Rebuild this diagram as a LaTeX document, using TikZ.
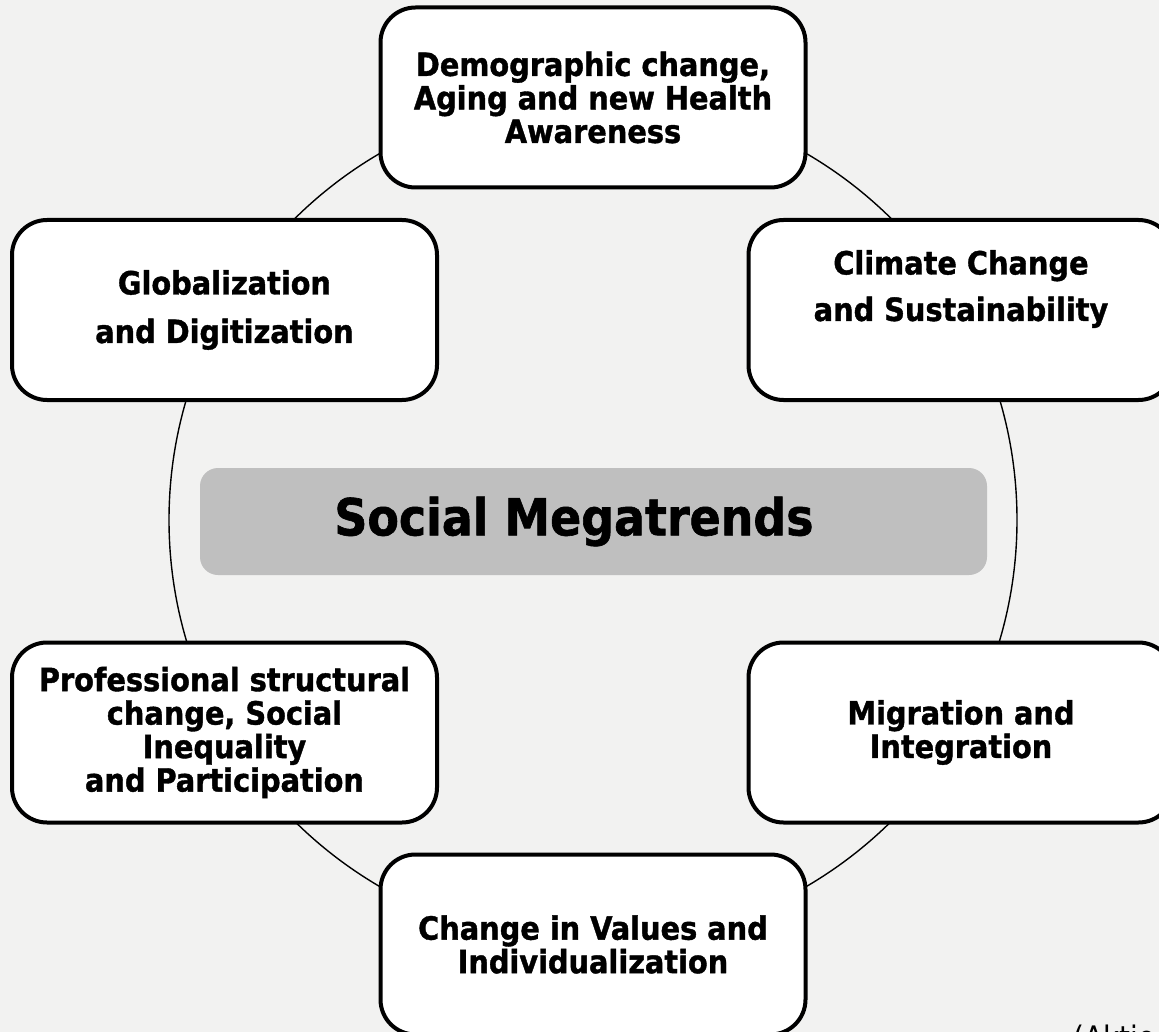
\documentclass[tikz,border=0pt]{standalone}
\usepackage{fontspec}
\setmainfont{DejaVu Sans Condensed}[BoldFeatures={FakeBold=1.2}]
\usepackage{xcolor}
\usetikzlibrary{positioning}

\definecolor{bgcolor}{HTML}{F2F2F1}
\definecolor{hubgray}{HTML}{BFBFBF}

\begin{document}
\begin{tikzpicture}[x=1pt,y=-1pt,
                    trend node/.style={rectangle,rounded corners=35pt,fill=white,draw,line width=4pt,
                                       minimum width=425pt,minimum height=180pt,align=center,
                                       font=\bfseries\fontsize{32}{33.5}\selectfont},
                    hub node/.style={rectangle,rounded corners=18pt,fill=hubgray,
                                     minimum width=787pt,minimum height=107pt}]
 \useasboundingbox (0,0) rectangle (1159,1032);
 \clip (0,0) rectangle (1159,1032);
 \fill[bgcolor] (0,0) rectangle (1159,1032);

 % ring behind the trends
 \draw[line width=1.4pt] (593,520) circle (424pt);

 \node [hub node] (Hub) at (593.5,521.5) {};
 \node [font=\bfseries\fontsize{51}{54}\selectfont] (HubText) at (574,521.5) {Social Megatrends};

 \node [trend node] (Demography) at (593,97.5) {Demographic change,\\Aging and new Health\\Awareness};
 \node [trend node] (Globalization) at (224.5,310) {Globalization\\[15pt]and Digitization};
 \node [trend node] (Climate) at (961,310) {};
 \node [font=\bfseries\fontsize{32}{33.5}\selectfont,align=center] (ClimateText) at (961,289) {Climate Change\\[13pt]and Sustainability};
 \node [trend node] (Professional) at (224.5,732.5) {Professional structural\\change, Social\\Inequality\\and Participation};
 \node [trend node] (Migration) at (961,732.5) {Migration and\\Integration};
 \node [trend node] (Values) at (593,944.5) {Change in Values and\\Individualization};

 \node [anchor=base west,font=\fontsize{31}{33}\selectfont,inner sep=0pt] (Source) at (1073,1048) {(Aktio};
\end{tikzpicture}
\end{document}
